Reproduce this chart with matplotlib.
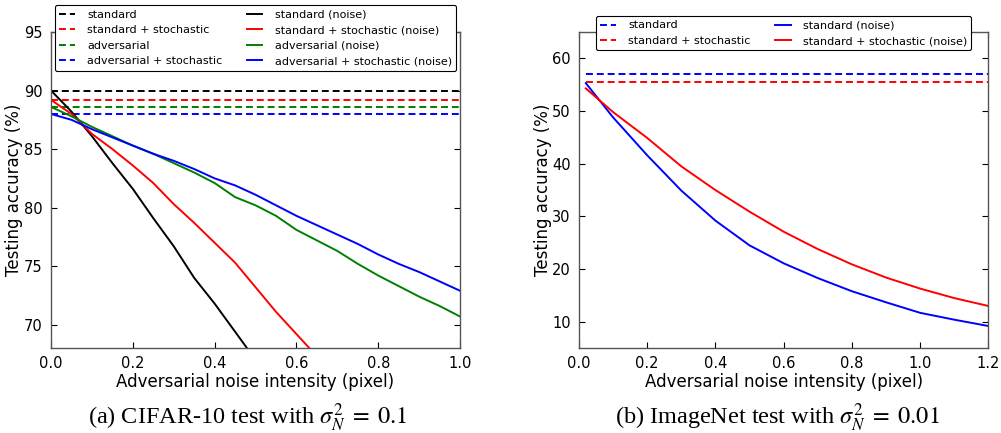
import matplotlib
matplotlib.use('Agg')
import matplotlib.pyplot as plt
import numpy as np

# CIFAR-10, sigma_N^2 = 0.1
cifar_x = [0.0, 0.05, 0.1, 0.15, 0.2, 0.25, 0.3, 0.35, 0.4, 0.45, 0.5,
           0.55, 0.6, 0.65, 0.7, 0.75, 0.8, 0.85, 0.9, 0.95, 1.0]
cifar_clean = {'standard': 90.0, 'standard + stochastic': 89.2,
               'adversarial': 88.6, 'adversarial + stochastic': 88.0}
cifar_std_noise = [90.0, 88.2, 86.1, 83.8, 81.6, 79.1, 76.7, 74.0, 71.8, 69.4, 67.0,
                   64.6]
cifar_stoch_noise = [89.2, 88.0, 86.3, 85.0, 83.6, 82.1, 80.3, 78.7, 77.0, 75.3, 73.2,
                     71.1, 69.2, 67.3, 65.4]
cifar_adv_noise = [88.6, 87.8, 86.9, 86.1, 85.3, 84.6, 83.8, 83.0, 82.1, 80.9, 80.2,
                   79.3, 78.1, 77.2, 76.3, 75.2, 74.2, 73.3, 72.4, 71.6, 70.7]
cifar_advstoch_noise = [88.0, 87.5, 86.7, 86.0, 85.3, 84.6, 84.0, 83.3, 82.5, 81.9, 81.1,
                        80.2, 79.3, 78.5, 77.7, 76.9, 76.0, 75.2, 74.5, 73.7, 72.9]

# ImageNet, sigma_N^2 = 0.01
imnet_x = [0.02, 0.1, 0.2, 0.3, 0.4, 0.5, 0.6, 0.7, 0.8, 0.9, 1.0, 1.1, 1.2]
imnet_clean = {'standard': 57.0, 'standard + stochastic': 55.45}
imnet_std_noise = [55.3, 48.8, 41.6, 34.9, 29.2, 24.5, 21.1, 18.3, 15.8, 13.7, 11.7, 10.4, 9.2]
imnet_stoch_noise = [54.3, 49.8, 44.9, 39.5, 35.0, 30.9, 27.1, 23.8, 20.9, 18.4, 16.3, 14.5, 13.0]

plt.rcParams['xtick.direction'] = 'in'
plt.rcParams['ytick.direction'] = 'in'
plt.rcParams['xtick.top'] = True
plt.rcParams['ytick.right'] = True
plt.rcParams['xtick.major.size'] = 4
plt.rcParams['ytick.major.size'] = 4
plt.rcParams['xtick.major.pad'] = 6
plt.rcParams['ytick.major.pad'] = 6
plt.rcParams['xtick.labelsize'] = 10.5
plt.rcParams['ytick.labelsize'] = 10.5
plt.rcParams['axes.labelsize'] = 12
plt.rcParams['axes.edgecolor'] = '#555555'
plt.rcParams['axes.linewidth'] = 1.0
plt.rcParams['lines.scale_dashes'] = False
plt.rcParams['mathtext.fontset'] = 'stix'

fig = plt.figure(figsize=(10.01, 4.33), dpi=100)
ax1 = fig.add_axes([0.051, 0.196, 0.4086, 0.730])
ax2 = fig.add_axes([0.5784, 0.196, 0.409, 0.730])

colors = {'standard': 'k', 'standard + stochastic': 'r',
          'adversarial': 'g', 'adversarial + stochastic': 'b'}
dash = (5, 2.8)
lw = 1.4
leg_kw = dict(ncol=2, loc='upper center', fontsize=8, framealpha=1, edgecolor='k',
              handlelength=1.4, handletextpad=1.1, columnspacing=2.2, borderaxespad=0)

# left panel
for name, val in cifar_clean.items():
    ax1.plot([0, 1.0], [val, val], '--', color=colors[name], lw=lw, dashes=dash, label=name)
ax1.plot(cifar_x[:len(cifar_std_noise)], cifar_std_noise, color='k', lw=lw, label='standard (noise)')
ax1.plot(cifar_x[:len(cifar_stoch_noise)], cifar_stoch_noise, color='r', lw=lw,
         label='standard + stochastic (noise)')
ax1.plot(cifar_x, cifar_adv_noise, color='g', lw=lw, label='adversarial (noise)')
ax1.plot(cifar_x, cifar_advstoch_noise, color='b', lw=lw, label='adversarial + stochastic (noise)')
ax1.set_xlim(0, 1.0)
ax1.set_ylim(68, 95)
ax1.set_xticks(np.arange(0, 1.01, 0.2))
ax1.set_yticks([70, 75, 80, 85, 90, 95])
ax1.set_xlabel('Adversarial noise intensity (pixel)', labelpad=1)
ax1.set_ylabel('Testing accuracy (%)', labelpad=1)
leg1 = ax1.legend(bbox_to_anchor=(0.5, 1.085), **leg_kw)
leg1.get_frame().set_linewidth(0.8)

# right panel
imnet_colors = {'standard': 'b', 'standard + stochastic': 'r'}
for name, val in imnet_clean.items():
    ax2.plot([0.02, 1.2], [val, val], '--', color=imnet_colors[name], lw=lw, dashes=dash, label=name)
ax2.plot(imnet_x, imnet_std_noise, color='b', lw=lw, label='standard (noise)')
ax2.plot(imnet_x, imnet_stoch_noise, color='r', lw=lw, label='standard + stochastic (noise)')
ax2.set_xlim(0, 1.2)
ax2.set_ylim(5, 65)
ax2.set_xticks(np.arange(0, 1.21, 0.2))
ax2.set_yticks([10, 20, 30, 40, 50, 60])
ax2.set_xlabel('Adversarial noise intensity (pixel)', labelpad=1)
ax2.set_ylabel('Testing accuracy (%)', labelpad=0)
leg2 = ax2.legend(bbox_to_anchor=(0.5, 1.0506), **leg_kw)
leg2.get_frame().set_linewidth(0.8)

fig.text(248 / 1001, 1 - 418 / 433, r'(a) CIFAR-10 test with $\sigma_N^2\;=\;0.1$',
         ha='center', va='center', fontsize=17.5, family='Liberation Serif')
fig.text(777 / 1001, 1 - 418 / 433, r'(b) ImageNet test with $\sigma_N^2\;=\;0.01$',
         ha='center', va='center', fontsize=17.5, family='Liberation Serif')

fig.savefig('out.png', dpi=100)
